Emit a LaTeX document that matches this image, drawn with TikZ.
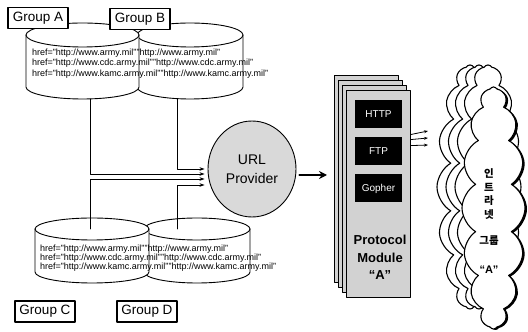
\documentclass[tikz,border=0pt]{standalone}
\usepackage{fontspec}
\setmainfont{Liberation Sans}
\newfontfamily\krfont{Noto Sans CJK KR}
\usetikzlibrary{arrows.meta,shapes.geometric,shapes.symbols,shadows}
\tikzset{
  every picture/.style={line join=round, line cap=round, >=Stealth},
  cyl/.style={draw, line width=0.9pt, fill=white},
  url/.style={font=\fontsize{9}{9}\selectfont, inner sep=0pt, anchor=west},
  grpbox/.style={draw, line width=1.2pt, fill=white, inner sep=1pt, minimum width=60pt, minimum height=21pt, font=\fontsize{13.5}{15}\selectfont},
  feed/.style={line width=0.8pt, -{Stealth[length=5pt,width=3.5pt]}, shorten >=3pt},
  prov/.style={ellipse, draw, line width=0.9pt, fill=gray!30, minimum width=88pt, minimum height=96pt, inner sep=0pt, align=center, font=\fontsize{14}{19}\selectfont},
  page/.style={draw, line width=0.8pt, fill=gray!35, minimum width=64pt, minimum height=207pt, inner sep=0pt},
  proto/.style={fill=black, text=white, minimum width=47pt, minimum height=28pt, inner sep=0pt, font=\fontsize{10}{12}\selectfont},
  cloudy/.style={cloud, cloud puffs=16, cloud puff arc=120, draw, line width=1.1pt, fill=white, inner sep=0pt},
  bigarr/.style={line width=2.2pt, -{Stealth[length=8pt,width=8pt]}},
  smallarr/.style={line width=0.8pt, -{Stealth[length=4pt,width=3pt]}},
}
\newcommand\dbcyl[5]{%
  \draw[cyl] (#1-#2,#3) -- (#1-#2,#4) arc[start angle=180,end angle=360,x radius=#2,y radius=#5] -- (#1+#2,#3) arc[start angle=0,end angle=180,x radius=#2,y radius=#5] -- cycle;
  \draw[cyl,fill=none] (#1-#2,#3) arc[start angle=180,end angle=360,x radius=#2,y radius=#5];}
\begin{document}
\begin{tikzpicture}[x=1pt,y=1pt]
\useasboundingbox (0,0) rectangle (528,332);
% upper databases
\dbcyl{190}{53}{297}{245}{12}
\dbcyl{82.5}{56.5}{297}{245}{12}
\node[url] (a1) at (32,279) {href="http://www.army.mil"};
\node[url] (a2) at (32,269) {href="http://www.cdc.army.mil"};
\node[url] (a3) at (32,258) {href="http://www.kamc.army.mil"};
\node[url] (b1) at (a1.east) {"http://www.army.mil"};
\node[url] (b2) at (a2.east) {"http://www.cdc.army.mil"};
\node[url] (b3) at (a3.east) {"http://www.kamc.army.mil"};
\node[grpbox] (grpA) at (38,314) {Group A};
\node[grpbox] (grpB) at (140,313) {Group B};
% lower databases
\dbcyl{197}{53}{103}{60}{11}
\dbcyl{92}{57}{103}{60}{11}
\node[url] (c1) at (40,83) {href="http://www.army.mil"};
\node[url] (c2) at (40,74) {href="http://www.cdc.army.mil"};
\node[url] (c3) at (40,65) {href="http://www.kamc.army.mil"};
\node[url] (d1) at (c1.east) {"http://www.army.mil"};
\node[url] (d2) at (c2.east) {"http://www.cdc.army.mil"};
\node[url] (d3) at (c3.east) {"http://www.kamc.army.mil"};
\node[grpbox] (grpC) at (45,20.5) {Group C};
\node[grpbox] (grpD) at (147,20.5) {Group D};
% provider
\node[prov] (prov) at (252,163) {URL\\Provider};
\coordinate (aOut) at (90,233);
\coordinate (bOut) at (177,233.5);
\coordinate (cOut) at (90,103);
\coordinate (dOut) at (177,103);
\draw[feed] (aOut) |- ([yshift=-5pt]prov.west);
\draw[feed] (bOut) |- (prov.west);
\draw[feed] (cOut) |- ([yshift=-10pt]prov.west);
\draw[feed] (dOut) |- ([yshift=-16pt]prov.west);
% protocol module
\node[page] (pg1) at (366,153.5) {};
\node[page] (pg2) at (370,148.5) {};
\node[page] (pg3) at (374,143.5) {};
\node[page] (pg4) at (378,138.5) {};
\node[proto] (http) at (378.5,218) {HTTP};
\node[proto] (ftp) at (378.5,180.5) {FTP};
\node[proto] (gopher) at (378.5,143.5) {Gopher};
\node[align=center, font=\bfseries\fontsize{13}{17.5}\selectfont] (modlbl) at (380,74.5) {Protocol\\Module\\``A''};
\coordinate (modIn) at (327,157);
\draw[bigarr, shorten <=3pt] (prov.east |- modIn) -- (modIn);
% intranet clouds
\node[cloudy, minimum width=66pt, minimum height=244pt] (cl1) at (470,145) {};
\node[cloudy, minimum width=66pt, minimum height=244pt] (cl2) at (479,145) {};
\node[cloudy, minimum width=66pt, minimum height=244pt] (cl3) at (488,145) {};
\node[cloudy, minimum width=63pt, minimum height=242pt, drop shadow={shadow xshift=2pt, shadow yshift=-1pt, fill=black, opacity=1}] (cl4) at (493.5,124) {};
\node[align=center, font=\krfont\bfseries\fontsize{10.5}{13.7}\selectfont] (intra) at (489,138) {인\\트\\라\\넷};
\node[font=\krfont\bfseries\fontsize{10.5}{12}\selectfont] (grpname) at (489,91) {그룹};
\node[font=\bfseries\fontsize{11}{12}\selectfont] (grpid) at (489,62) {“A”};
\coordinate (o1) at (428,201);
\coordinate (o2) at (428,194);
\coordinate (o3) at (428,187);
\draw[smallarr] ([yshift=-45pt]pg4.north east) -- (o1);
\draw[smallarr] ([yshift=-50pt]pg4.north east) -- (o2);
\draw[smallarr] ([yshift=-56pt]pg4.north east) -- (o3);
\end{tikzpicture}
\end{document}
